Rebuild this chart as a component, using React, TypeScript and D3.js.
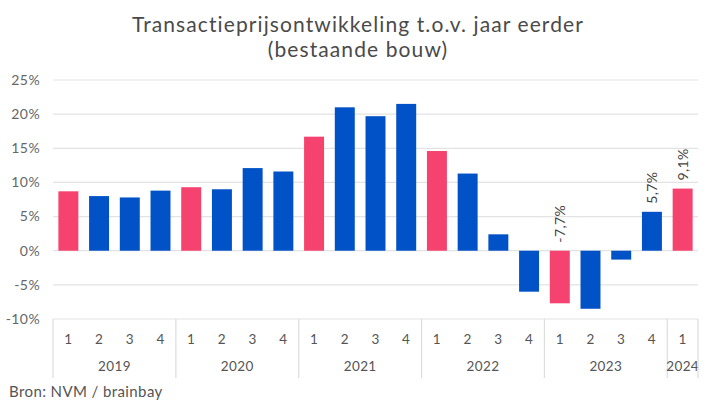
import React from "react"
import { scaleBand, scaleLinear } from "d3"

const years = ["2019", "2020", "2021", "2022", "2023", "2024"]
const quarters = [
  "2019-1", "2019-2", "2019-3", "2019-4",
  "2020-1", "2020-2", "2020-3", "2020-4",
  "2021-1", "2021-2", "2021-3", "2021-4",
  "2022-1", "2022-2", "2022-3", "2022-4",
  "2023-1", "2023-2", "2023-3", "2023-4",
  "2024-1",
]
const values = [
  8.7, 8.0, 7.8, 8.8,
  9.3, 9.0, 12.1, 11.6,
  16.7, 21.0, 19.7, 21.5,
  14.6, 11.3, 2.4, -6.0,
  -7.7, -8.5, -1.3, 5.7,
  9.1,
]
const labelled = ["2023-1", "2023-4", "2024-1"]
const yTicks = [25, 20, 15, 10, 5, 0, -5, -10]

const W = 719
const H = 412
const PINK = "#f5426e"
const BLUE = "#0052c6"
const FONT = "Lato, 'Noto Sans', sans-serif"

const fmt = (v: number) => `${v.toFixed(1).replace(".", ",")}%`

export default function App() {
  const x = scaleBand<string>()
    .domain(quarters)
    .range([53, 698])
    .paddingInner(0.35)
    .paddingOuter(0.175)

  const y = scaleLinear().domain([-10, 25]).range([319, 80])

  const step = x.step()
  const left = 53
  const axisTop = y(-10)

  return (
    <svg width={W} height={H} style={{ position: "absolute", left: 0, top: 0, background: "#fff" }} fontFamily={FONT} letterSpacing={0.4}>
      {/* titel */}
      <text x={358} y={32} textAnchor="middle" fontSize={21} fill="#4a4a4a" letterSpacing={1.1}>
        Transactieprijsontwikkeling t.o.v. jaar eerder
      </text>
      <text x={358} y={57} textAnchor="middle" fontSize={21} fill="#4a4a4a" letterSpacing={1.1}>
        (bestaande bouw)
      </text>

      {/* gridlijnen + y labels */}
      {yTicks.map((t) => (
        <g key={t}>
          <line x1={left} x2={698} y1={y(t)} y2={y(t)} stroke="#e3e3e3" strokeWidth={1.2} />
          <text x={40} y={y(t)} dy=".35em" textAnchor="end" fontSize={14} fill="#666">
            {t}%
          </text>
        </g>
      ))}

      {/* staven */}
      {quarters.map((q, i) => {
        const v = values[i]
        const isQ1 = q.endsWith("-1")
        return (
          <rect
            key={q}
            x={x(q)}
            y={y(Math.max(v, 0))}
            width={x.bandwidth()}
            height={Math.abs(y(v) - y(0))}
            fill={isQ1 ? PINK : BLUE}
          />
        )
      })}

      {/* waardelabels */}
      {quarters.map((q, i) => {
        if (!labelled.includes(q)) return null
        const cx = x(q)! + x.bandwidth() / 2
        const by = y(Math.max(values[i], 0)) - 8
        return (
          <text
            key={q}
            transform={`translate(${cx},${by}) rotate(-90)`}
            dy=".35em"
            textAnchor="start"
            fontSize={14}
            fill="#444"
          >
            {fmt(values[i])}
          </text>
        )
      })}

      {/* categorie-as */}
      {quarters.map((q) => (
        <text
          key={q}
          x={x(q)! + x.bandwidth() / 2}
          y={339}
          dy=".35em"
          textAnchor="middle"
          fontSize={13.5}
          fill="#555"
        >
          {q.split("-")[1]}
        </text>
      ))}
      {years.map((yr) => {
        const idx = quarters.filter((q) => q.startsWith(yr))
        const x0 = left + quarters.indexOf(idx[0]) * step
        const x1 = x0 + idx.length * step
        return (
          <g key={yr}>
            <line x1={x0} x2={x0} y1={axisTop} y2={378} stroke="#dcdcdc" strokeWidth={1.2} />
            <text x={(x0 + x1) / 2} y={366} dy=".35em" textAnchor="middle" fontSize={13.5} fill="#555">
              {yr}
            </text>
          </g>
        )
      })}
      <line x1={698} x2={698} y1={axisTop} y2={378} stroke="#dcdcdc" strokeWidth={1.2} />

      <text x={9} y={397} fontSize={15} fill="#555">
        Bron: NVM / brainbay
      </text>
    </svg>
  )
}
